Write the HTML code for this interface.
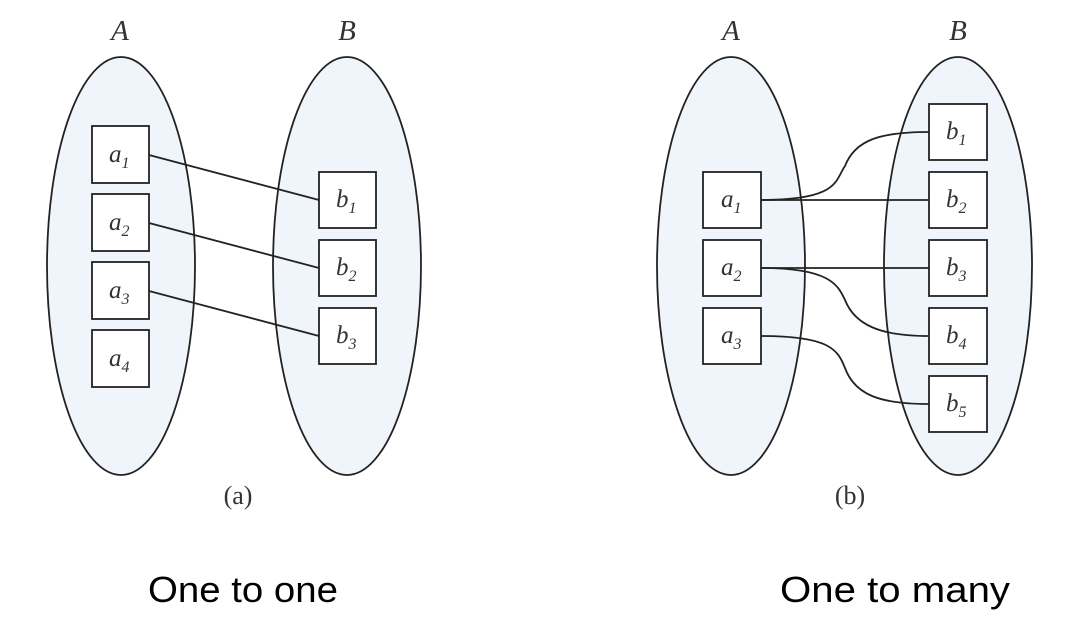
<!DOCTYPE html>
<html><head><meta charset="utf-8"><style>body{margin:0;background:#fff}svg{display:block}</style></head><body>
<svg width="1080" height="623" viewBox="0 0 1080 623" xmlns="http://www.w3.org/2000/svg">
<g fill="#eff5fb" stroke="#222" stroke-width="1.8">
<ellipse cx="121" cy="266" rx="74" ry="209"/>
<ellipse cx="347" cy="266" rx="74" ry="209"/>
<ellipse cx="731" cy="266" rx="74" ry="209"/>
<ellipse cx="958" cy="266" rx="74" ry="209"/>
</g>
<g fill="none" stroke="#222" stroke-width="1.8">
<line x1="149" y1="155" x2="319" y2="200"/>
<line x1="149" y1="223" x2="319" y2="268"/>
<line x1="149" y1="291" x2="319" y2="336"/>
<path d="M761 200 C 840 200, 835 180, 845 166 C 855 140, 880 132, 929 132"/>
<line x1="761" y1="200" x2="929" y2="200"/>
<line x1="761" y1="268" x2="929" y2="268"/>
<path d="M761 268 C 830 268, 838 285, 845 300 C 855 325, 880 336, 929 336"/>
<path d="M761 336 C 830 336, 838 350, 845 368 C 855 395, 880 404, 929 404"/>
</g>
<g fill="#fff" stroke="#222" stroke-width="1.8">
<rect x="92" y="126" width="57" height="57"/>
<rect x="92" y="194" width="57" height="57"/>
<rect x="92" y="262" width="57" height="57"/>
<rect x="92" y="330" width="57" height="57"/>
<rect x="319" y="172" width="57" height="56"/>
<rect x="319" y="240" width="57" height="56"/>
<rect x="319" y="308" width="57" height="56"/>
<rect x="703" y="172" width="58" height="56"/>
<rect x="703" y="240" width="58" height="56"/>
<rect x="703" y="308" width="58" height="56"/>
<rect x="929" y="104" width="58" height="56"/>
<rect x="929" y="172" width="58" height="56"/>
<rect x="929" y="240" width="58" height="56"/>
<rect x="929" y="308" width="58" height="56"/>
<rect x="929" y="376" width="58" height="56"/>
</g>
<g font-family="Liberation Serif, serif" font-style="italic" fill="#333" font-size="25">
<text x="120" y="40" text-anchor="middle" font-size="29">A</text>
<text x="347" y="40" text-anchor="middle" font-size="29">B</text>
<text x="731" y="40" text-anchor="middle" font-size="29">A</text>
<text x="958" y="40" text-anchor="middle" font-size="29">B</text>
<text x="109" y="162">a<tspan font-size="16" dy="6">1</tspan></text>
<text x="109" y="230">a<tspan font-size="16" dy="6">2</tspan></text>
<text x="109" y="298">a<tspan font-size="16" dy="6">3</tspan></text>
<text x="109" y="366">a<tspan font-size="16" dy="6">4</tspan></text>
<text x="336" y="207">b<tspan font-size="16" dy="6">1</tspan></text>
<text x="336" y="275">b<tspan font-size="16" dy="6">2</tspan></text>
<text x="336" y="343">b<tspan font-size="16" dy="6">3</tspan></text>
<text x="721" y="207">a<tspan font-size="16" dy="6">1</tspan></text>
<text x="721" y="275">a<tspan font-size="16" dy="6">2</tspan></text>
<text x="721" y="343">a<tspan font-size="16" dy="6">3</tspan></text>
<text x="946" y="139">b<tspan font-size="16" dy="6">1</tspan></text>
<text x="946" y="207">b<tspan font-size="16" dy="6">2</tspan></text>
<text x="946" y="275">b<tspan font-size="16" dy="6">3</tspan></text>
<text x="946" y="343">b<tspan font-size="16" dy="6">4</tspan></text>
<text x="946" y="411">b<tspan font-size="16" dy="6">5</tspan></text>
</g>
<g font-family="Liberation Serif, serif" fill="#333" font-size="26" text-anchor="middle">
<text x="238" y="504">(a)</text>
<text x="850" y="504">(b)</text>
</g>
<g font-family="Liberation Sans, sans-serif" fill="#000" font-size="36">
<text x="148" y="602" textLength="190" lengthAdjust="spacingAndGlyphs">One to one</text>
<text x="780" y="602" textLength="230" lengthAdjust="spacingAndGlyphs">One to many</text>
</g>
</svg>
</body></html>
